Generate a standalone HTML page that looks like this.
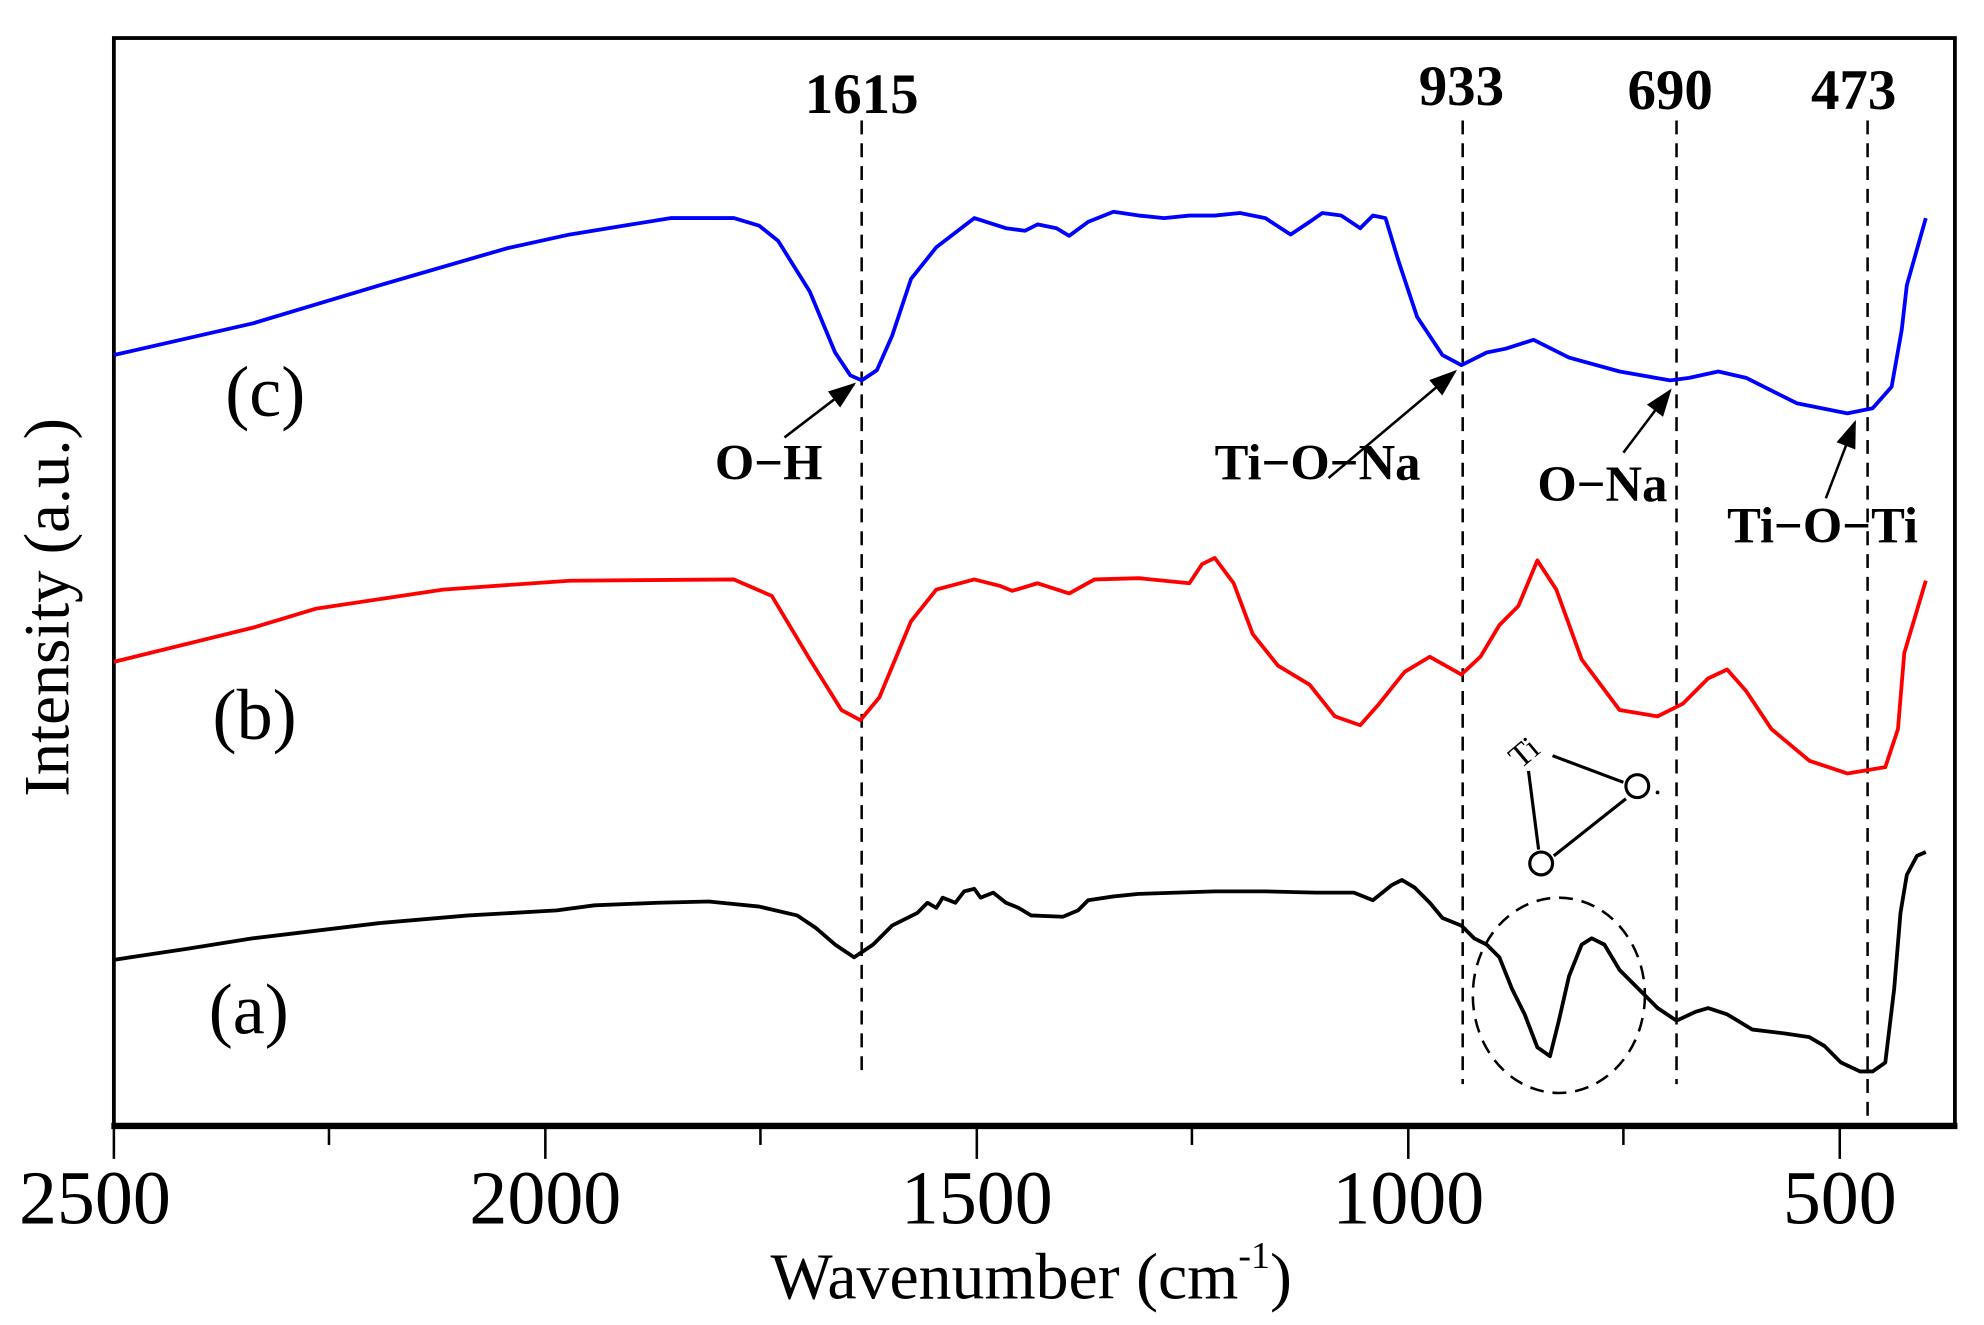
<!DOCTYPE html>
<html><head><meta charset="utf-8"><style>
html,body{margin:0;padding:0;background:#fff;}
svg{display:block;}
text{font-family:"Liberation Serif",serif;}
</style></head><body>
<svg width="1984" height="1325" viewBox="0 0 1568 1045" preserveAspectRatio="none" xmlns="http://www.w3.org/2000/svg">
<defs><marker id="ar" markerWidth="22" markerHeight="16" refX="20" refY="8" orient="auto" markerUnits="userSpaceOnUse"><path d="M0,0 L22,8 L0,16 z" fill="#000"/></marker></defs>
<rect x="90" y="30" width="1455" height="858" fill="none" stroke="#000" stroke-width="3"/>
<line x1="88" y1="888" x2="1547" y2="888" stroke="#000" stroke-width="5"/>
<g stroke="#000" stroke-width="2">
<line x1="90" y1="888" x2="90" y2="914"/><line x1="431" y1="888" x2="431" y2="914"/><line x1="772" y1="888" x2="772" y2="914"/><line x1="1113" y1="888" x2="1113" y2="914"/><line x1="1454" y1="888" x2="1454" y2="914"/>
<line x1="260" y1="888" x2="260" y2="903"/><line x1="601" y1="888" x2="601" y2="903"/><line x1="942" y1="888" x2="942" y2="903"/><line x1="1283" y1="888" x2="1283" y2="903"/>
</g>
<g font-size="60" text-anchor="middle">
<text x="75" y="965">2500</text><text x="431" y="965">2000</text><text x="772" y="965">1500</text><text x="1113" y="965">1000</text><text x="1454" y="965">500</text>
</g>
<text x="815" y="1024" font-size="52" text-anchor="middle">Wavenumber (cm<tspan font-size="30" dy="-24">-1</tspan><tspan dy="24">)</tspan></text>
<text transform="translate(54,479) rotate(-90)" font-size="51" text-anchor="middle">Intensity (a.u.)</text>
<g stroke="#000" stroke-width="2" stroke-dasharray="11,7">
<line x1="681" y1="95" x2="681" y2="848"/><line x1="1156" y1="95" x2="1156" y2="855"/><line x1="1325" y1="95" x2="1325" y2="855"/><line x1="1476" y1="95" x2="1476" y2="880"/>
<ellipse cx="1232" cy="785" rx="68" ry="77" fill="none"/>
</g>
<g font-size="45" font-weight="bold" text-anchor="middle">
<text x="681" y="89">1615</text><text x="1155" y="83">933</text><text x="1320" y="86">690</text><text x="1465" y="86">473</text>
</g>
<g font-size="40" font-weight="bold">
<text x="565" y="378">O−H</text><text x="960" y="378">Ti−O−Na</text><text x="1215" y="395">O−Na</text><text x="1365" y="428">Ti−O−Ti</text>
</g>
<g stroke="#000" stroke-width="2" marker-end="url(#ar)">
<line x1="620" y1="345" x2="675" y2="303"/><line x1="1050" y1="377" x2="1150" y2="293"/><line x1="1283" y1="357" x2="1320" y2="308"/><line x1="1443" y1="393" x2="1466" y2="333"/>
</g>
<g font-size="57"><text x="178" y="328">(c)</text><text x="168" y="583">(b)</text><text x="165" y="815">(a)</text></g>
<g stroke="#000" stroke-width="2.5" fill="none">
<circle cx="1294" cy="620" r="9"/><circle cx="1218" cy="681" r="9"/>
<line x1="1227" y1="596" x2="1283" y2="617"/><line x1="1208" y1="608" x2="1216" y2="670"/><line x1="1228" y1="675" x2="1285" y2="630"/>
</g>
<text transform="translate(1210,600) rotate(-40)" font-size="26" font-family="Liberation Sans,sans-serif" text-anchor="middle">Ti</text>
<circle cx="1310" cy="625" r="1.5" fill="#000"/>
<g fill="none" stroke-width="3" stroke-linejoin="round">
<polyline stroke="#0000ff" points="90,280 200,255 300,225 400,196 450,185 530,172 580,172 600,178 615,190 640,230 660,278 672,296 681,300 693,292 705,265 720,220 740,195 770,172 795,180 810,182 820,177 835,180 845,186 860,175 880,167 900,170 920,172 940,170 960,170 980,168 1000,172 1020,185 1035,175 1045,168 1060,170 1075,180 1085,170 1095,172 1105,205 1120,250 1140,280 1155,288 1175,278 1190,275 1212,268 1240,282 1280,293 1320,300 1335,298 1358,293 1380,298 1420,318 1460,326 1480,322 1495,305 1503,260 1507,225 1522,172"/>
<polyline stroke="#ff0000" points="90,522 200,495 250,480 350,465 450,458 580,457 610,470 640,520 665,560 680,568 695,550 720,490 740,465 770,457 790,462 800,466 820,460 845,468 865,457 900,456 940,460 950,445 960,440 975,460 990,500 1010,525 1035,540 1055,565 1075,572 1090,555 1110,530 1130,518 1155,532 1170,518 1185,493 1200,478 1215,442 1230,465 1250,520 1280,560 1310,565 1330,555 1350,535 1365,528 1380,545 1400,575 1430,600 1460,610 1490,605 1500,575 1505,515 1522,458"/>
<polyline stroke="#000" points="90,757 150,748 200,740 300,728 370,722 440,718 470,714 520,712 560,711 600,715 630,722 645,732 660,745 675,755 690,745 705,730 725,720 733,712 740,716 745,708 755,712 762,703 770,701 775,708 785,704 795,712 805,716 815,722 840,723 852,718 860,710 880,707 900,705 960,703 1000,703 1040,704 1070,704 1085,710 1100,698 1108,694 1118,700 1130,712 1140,724 1155,730 1165,740 1175,745 1185,755 1195,780 1205,800 1215,826 1225,833 1232,805 1240,770 1250,745 1258,740 1268,745 1280,765 1290,775 1310,795 1325,805 1340,798 1350,795 1365,800 1385,812 1410,815 1430,818 1442,825 1455,838 1470,845 1480,845 1490,838 1497,780 1502,720 1507,690 1515,675 1522,672"/>
</g>
</svg>
</body></html>
